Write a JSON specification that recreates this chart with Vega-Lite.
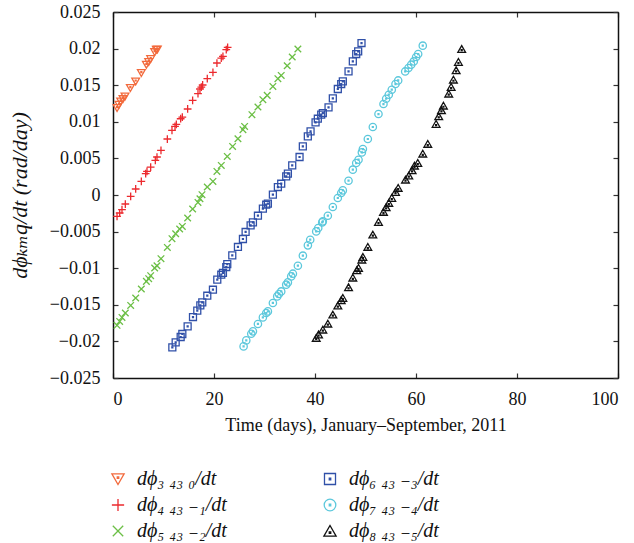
{
  "$schema": "https://vega.github.io/schema/vega-lite/v6.json",
  "autosize": {"type": "none"},
  "padding": {"left": 113, "top": 12, "right": 15, "bottom": 165},
  "width": 505,
  "height": 366,
  "background": "white",
  "config": {
    "view": {"stroke": null},
    "font": "Liberation Serif",
    "axis": {"grid": false, "domainColor": "#111", "domainWidth": 1.5, "tickColor": "#333", "tickWidth": 1.2, "tickSize": -5, "labelFont": "'Liberation Serif', serif", "labelFontSize": 18, "labelColor": "#111", "titleFont": "'Liberation Serif', 'DejaVu Serif'", "titleColor": "#111", "titleFontWeight": "normal"}
  },
  "data": {"values": [
    {"s":"3","t":0.80,"v":0.01189},{"s":"3","t":1.19,"v":0.01233},{"s":"3","t":1.52,"v":0.01279},{"s":"3","t":1.98,"v":0.01311},{"s":"3","t":2.38,"v":0.01347},{"s":"3","t":3.44,"v":0.01462},{"s":"3","t":4.49,"v":0.01552},{"s":"3","t":5.61,"v":0.01667},{"s":"3","t":6.61,"v":0.0178},{"s":"3","t":7.07,"v":0.01817},{"s":"3","t":7.46,"v":0.01858},{"s":"3","t":8.25,"v":0.01953},{"s":"3","t":8.58,"v":0.01985},{"s":"3","t":8.78,"v":0.0199},
    {"s":"4","t":0.80,"v":-0.00292},{"s":"4","t":1.32,"v":-0.00246},{"s":"4","t":1.78,"v":-0.00201},{"s":"4","t":2.44,"v":-0.00123},{"s":"4","t":3.50,"v":-0.00019},{"s":"4","t":4.49,"v":0.00082},{"s":"4","t":5.61,"v":0.00186},{"s":"4","t":6.47,"v":0.00291},{"s":"4","t":6.73,"v":0.00322},{"s":"4","t":7.46,"v":0.00382},{"s":"4","t":8.38,"v":0.00473},{"s":"4","t":8.71,"v":0.00519},{"s":"4","t":9.50,"v":0.00609},{"s":"4","t":10.76,"v":0.00765},{"s":"4","t":11.68,"v":0.00882},{"s":"4","t":12.28,"v":0.00937},{"s":"4","t":12.54,"v":0.00964},{"s":"4","t":13.40,"v":0.01042},{"s":"4","t":13.73,"v":0.01065},{"s":"4","t":14.78,"v":0.01175},{"s":"4","t":15.77,"v":0.01292},{"s":"4","t":16.83,"v":0.01384},{"s":"4","t":17.22,"v":0.01448},{"s":"4","t":17.49,"v":0.01475},{"s":"4","t":17.75,"v":0.01503},{"s":"4","t":18.67,"v":0.01589},{"s":"4","t":19.79,"v":0.01675},{"s":"4","t":20.58,"v":0.01803},{"s":"4","t":21.44,"v":0.01871},{"s":"4","t":21.77,"v":0.01893},{"s":"4","t":22.43,"v":0.01985},{"s":"4","t":22.70,"v":0.02016},
    {"s":"5","t":0.80,"v":-0.01781},{"s":"5","t":1.32,"v":-0.01727},{"s":"5","t":1.78,"v":-0.01672},{"s":"5","t":2.44,"v":-0.01612},{"s":"5","t":3.50,"v":-0.01508},{"s":"5","t":4.49,"v":-0.01407},{"s":"5","t":5.61,"v":-0.01284},{"s":"5","t":6.61,"v":-0.0118},{"s":"5","t":7.07,"v":-0.01143},{"s":"5","t":7.46,"v":-0.01102},{"s":"5","t":8.25,"v":-0.00997},{"s":"5","t":8.71,"v":-0.00966},{"s":"5","t":9.50,"v":-0.0087},{"s":"5","t":10.76,"v":-0.00716},{"s":"5","t":11.68,"v":-0.00597},{"s":"5","t":12.41,"v":-0.00529},{"s":"5","t":13.20,"v":-0.00464},{"s":"5","t":13.73,"v":-0.00429},{"s":"5","t":14.78,"v":-0.00314},{"s":"5","t":15.77,"v":-0.00191},{"s":"5","t":16.83,"v":-0.00101},{"s":"5","t":17.22,"v":-0.00051},{"s":"5","t":17.62,"v":0.00004},{"s":"5","t":18.67,"v":0.00109},{"s":"5","t":19.79,"v":0.00186},{"s":"5","t":20.58,"v":0.00322},{"s":"5","t":21.44,"v":0.00404},{"s":"5","t":22.63,"v":0.00527},{"s":"5","t":23.68,"v":0.00664},{"s":"5","t":24.74,"v":0.00769},{"s":"5","t":25.73,"v":0.00892},{"s":"5","t":26.06,"v":0.00937},{"s":"5","t":27.51,"v":0.01097},{"s":"5","t":28.70,"v":0.01202},{"s":"5","t":29.68,"v":0.01302},{"s":"5","t":30.54,"v":0.01361},{"s":"5","t":31.66,"v":0.01483},{"s":"5","t":32.65,"v":0.01589},{"s":"5","t":33.31,"v":0.01634},{"s":"5","t":34.50,"v":0.01766},{"s":"5","t":35.49,"v":0.01885},{"s":"5","t":36.61,"v":0.01994},
    {"s":"6","t":11.75,"v":-0.02082},{"s":"6","t":12.41,"v":-0.02013},{"s":"6","t":13.40,"v":-0.0194},{"s":"6","t":13.73,"v":-0.01899},{"s":"6","t":14.78,"v":-0.01795},{"s":"6","t":15.84,"v":-0.01667},{"s":"6","t":16.69,"v":-0.0158},{"s":"6","t":17.29,"v":-0.01508},{"s":"6","t":17.68,"v":-0.01467},{"s":"6","t":18.67,"v":-0.01376},{"s":"6","t":19.79,"v":-0.01294},{"s":"6","t":20.65,"v":-0.01157},{"s":"6","t":21.44,"v":-0.01089},{"s":"6","t":21.77,"v":-0.01065},{"s":"6","t":22.43,"v":-0.00984},{"s":"6","t":22.63,"v":-0.00943},{"s":"6","t":23.62,"v":-0.00825},{"s":"6","t":24.74,"v":-0.0071},{"s":"6","t":25.73,"v":-0.00601},{"s":"6","t":26.26,"v":-0.00505},{"s":"6","t":27.25,"v":-0.00415},{"s":"6","t":27.71,"v":-0.00374},{"s":"6","t":28.70,"v":-0.00283},{"s":"6","t":29.68,"v":-0.00187},{"s":"6","t":30.34,"v":-0.00133},{"s":"6","t":30.67,"v":-0.00119},{"s":"6","t":31.66,"v":0.00004},{"s":"6","t":32.65,"v":0.00109},{"s":"6","t":33.31,"v":0.00154},{"s":"6","t":34.30,"v":0.00254},{"s":"6","t":34.63,"v":0.00291},{"s":"6","t":35.49,"v":0.00404},{"s":"6","t":36.94,"v":0.00519},{"s":"6","t":37.59,"v":0.00664},{"s":"6","t":38.58,"v":0.008},{"s":"6","t":39.12,"v":0.00869},{"s":"6","t":40.11,"v":0.00992},{"s":"6","t":40.56,"v":0.01042},{"s":"6","t":41.23,"v":0.01097},{"s":"6","t":41.55,"v":0.0112},{"s":"6","t":42.68,"v":0.01197},{"s":"6","t":43.53,"v":0.0132},{"s":"6","t":44.52,"v":0.01448},{"s":"6","t":45.19,"v":0.01516},{"s":"6","t":45.51,"v":0.01552},{"s":"6","t":46.64,"v":0.01688},{"s":"6","t":47.49,"v":0.01825},{"s":"6","t":48.16,"v":0.01926},{"s":"6","t":48.55,"v":0.01962},{"s":"6","t":49.21,"v":0.02076},
    {"s":"7","t":25.86,"v":-0.02068},{"s":"7","t":26.39,"v":-0.01986},{"s":"7","t":27.38,"v":-0.01895},{"s":"7","t":27.71,"v":-0.01863},{"s":"7","t":28.70,"v":-0.01762},{"s":"7","t":29.68,"v":-0.01672},{"s":"7","t":30.34,"v":-0.01612},{"s":"7","t":30.67,"v":-0.0159},{"s":"7","t":31.66,"v":-0.01475},{"s":"7","t":32.52,"v":-0.01385},{"s":"7","t":32.85,"v":-0.01352},{"s":"7","t":33.31,"v":-0.01317},{"s":"7","t":34.30,"v":-0.01225},{"s":"7","t":34.63,"v":-0.01194},{"s":"7","t":35.29,"v":-0.01112},{"s":"7","t":35.62,"v":-0.01075},{"s":"7","t":36.61,"v":-0.00966},{"s":"7","t":37.60,"v":-0.00829},{"s":"7","t":38.59,"v":-0.00688},{"s":"7","t":39.05,"v":-0.00611},{"s":"7","t":40.24,"v":-0.00497},{"s":"7","t":40.64,"v":-0.00451},{"s":"7","t":41.43,"v":-0.00374},{"s":"7","t":41.55,"v":-0.0036},{"s":"7","t":42.54,"v":-0.00283},{"s":"7","t":43.53,"v":-0.00164},{"s":"7","t":44.52,"v":-0.00041},{"s":"7","t":45.19,"v":0.00027},{"s":"7","t":45.51,"v":0.00063},{"s":"7","t":46.64,"v":0.00195},{"s":"7","t":47.49,"v":0.00346},{"s":"7","t":48.16,"v":0.00437},{"s":"7","t":48.62,"v":0.00482},{"s":"7","t":49.28,"v":0.00582},{"s":"7","t":49.48,"v":0.00628},{"s":"7","t":50.46,"v":0.00765},{"s":"7","t":51.45,"v":0.00929},{"s":"7","t":52.57,"v":0.01106},{"s":"7","t":53.56,"v":0.01243},{"s":"7","t":54.09,"v":0.01315},{"s":"7","t":54.61,"v":0.0137},{"s":"7","t":55.20,"v":0.01438},{"s":"7","t":55.94,"v":0.01516},{"s":"7","t":56.47,"v":0.01565},{"s":"7","t":57.86,"v":0.01688},{"s":"7","t":58.51,"v":0.01735},{"s":"7","t":59.04,"v":0.0178},{"s":"7","t":59.56,"v":0.01825},{"s":"7","t":60.03,"v":0.01885},{"s":"7","t":60.43,"v":0.01926},{"s":"7","t":61.34,"v":0.0204},
    {"s":"8","t":40.24,"v":-0.01953},{"s":"8","t":40.70,"v":-0.01908},{"s":"8","t":41.55,"v":-0.0184},{"s":"8","t":42.54,"v":-0.01758},{"s":"8","t":43.53,"v":-0.01635},{"s":"8","t":44.52,"v":-0.01512},{"s":"8","t":45.19,"v":-0.0144},{"s":"8","t":45.51,"v":-0.01407},{"s":"8","t":46.64,"v":-0.01262},{"s":"8","t":47.49,"v":-0.0113},{"s":"8","t":48.28,"v":-0.0103},{"s":"8","t":48.62,"v":-0.00997},{"s":"8","t":49.28,"v":-0.00884},{"s":"8","t":49.48,"v":-0.00847},{"s":"8","t":50.46,"v":-0.0071},{"s":"8","t":51.45,"v":-0.00542},{"s":"8","t":52.57,"v":-0.00369},{"s":"8","t":53.56,"v":-0.00232},{"s":"8","t":54.09,"v":-0.00169},{"s":"8","t":54.61,"v":-0.00109},{"s":"8","t":55.20,"v":-0.00041},{"s":"8","t":55.94,"v":0.00041},{"s":"8","t":56.47,"v":0.00096},{"s":"8","t":57.92,"v":0.00209},{"s":"8","t":58.57,"v":0.00264},{"s":"8","t":59.23,"v":0.00336},{"s":"8","t":59.70,"v":0.004},{"s":"8","t":60.35,"v":0.00437},{"s":"8","t":61.34,"v":0.00564},{"s":"8","t":62.33,"v":0.00697},{"s":"8","t":63.98,"v":0.0097},{"s":"8","t":64.50,"v":0.01074},{"s":"8","t":65.04,"v":0.01156},{"s":"8","t":65.43,"v":0.0122},{"s":"8","t":66.48,"v":0.01384},{"s":"8","t":66.96,"v":0.01475},{"s":"8","t":67.41,"v":0.01575},{"s":"8","t":67.95,"v":0.01702},{"s":"8","t":68.40,"v":0.01817},{"s":"8","t":69.05,"v":0.01994}
  ]},
  "resolve": {"axis": {"x": "independent", "y": "independent"}},
  "layer": [
    {
      "mark": {"type": "point", "filled": false, "strokeWidth": 1.3, "size": 60, "opacity": 1},
      "encoding": {
        "x": {"field": "t", "type": "quantitative", "scale": {"domain": [0, 100], "nice": false},
          "axis": {"orient": "bottom", "values": [0, 20, 40, 60, 80, 100], "labelFont": "'Liberation Serif', serif", "labelPadding": 17, "title": "Time (days), January–September, 2011", "titleFontSize": 18, "titlePadding": 8}},
        "y": {"field": "v", "type": "quantitative", "scale": {"domain": [-0.025, 0.025], "nice": false, "zero": false},
          "axis": {"orient": "left", "values": [-0.025, -0.02, -0.015, -0.01, -0.005, 0, 0.005, 0.01, 0.015, 0.02, 0.025], "format": "~g", "labelFont": "'Liberation Serif', serif", "labelPadding": 18, "title": "dϕₖₘq/dt (rad/day)", "titleFontSize": 22, "titleFontStyle": "italic", "titlePadding": 18}},
        "color": {"field": "s", "type": "nominal",
          "scale": {"domain": ["3", "4", "5", "6", "7", "8"], "range": ["#f26a3c", "#ec2a2e", "#6cbf46", "#3050a8", "#5cc8dc", "#111111"]},
          "legend": {"orient": "none", "legendX": -5, "legendY": 457, "columns": 2, "columnPadding": 93, "rowPadding": 6, "padding": 0, "title": null, "symbolSize": 150, "symbolStrokeWidth": 1.3, "labelFont": "'Liberation Serif', 'DejaVu Serif'", "labelFontStyle": "italic", "labelFontSize": 20, "labelColor": "#111", "labelOffset": 9,
            "labelExpr": "datum.label == '3' ? 'dϕ₃ ₄₃ ₀/dt' : datum.label == '4' ? 'dϕ₄ ₄₃ ₋₁/dt' : datum.label == '5' ? 'dϕ₅ ₄₃ ₋₂/dt' : datum.label == '6' ? 'dϕ₆ ₄₃ ₋₃/dt' : datum.label == '7' ? 'dϕ₇ ₄₃ ₋₄/dt' : 'dϕ₈ ₄₃ ₋₅/dt'"}},
        "shape": {"field": "s", "type": "nominal",
          "scale": {"domain": ["3", "4", "5", "6", "7", "8"], "range": [
            "M-1,-0.85L1,-0.85L0,0.9Z M-0.12,-0.35H0.12V-0.11H-0.12Z",
            "M-1,0L1,0M0,-1L0,1",
            "M-0.85,-0.85L0.85,0.85M-0.85,0.85L0.85,-0.85",
            "M-0.9,-0.9H0.9V0.9H-0.9Z M-0.12,-0.12H0.12V0.12H-0.12Z",
            "M0.95,0A0.95,0.95 0 1,1 -0.95,0A0.95,0.95 0 1,1 0.95,0Z M-0.12,-0.12H0.12V0.12H-0.12Z",
            "M-1,0.85L1,0.85L0,-0.9Z M-0.12,0.15H0.12V0.39H-0.12Z"]},
          "legend": null}
      }
    },
    {
      "mark": {"type": "point", "opacity": 0},
      "encoding": {
        "x": {"field": "t", "type": "quantitative", "axis": {"orient": "top", "values": [0, 20, 40, 60, 80, 100], "labels": false, "title": null}},
        "y": {"field": "v", "type": "quantitative", "axis": {"orient": "right", "values": [-0.025, -0.02, -0.015, -0.01, -0.005, 0, 0.005, 0.01, 0.015, 0.02, 0.025], "labels": false, "title": null}}
      }
    }
  ]
}
